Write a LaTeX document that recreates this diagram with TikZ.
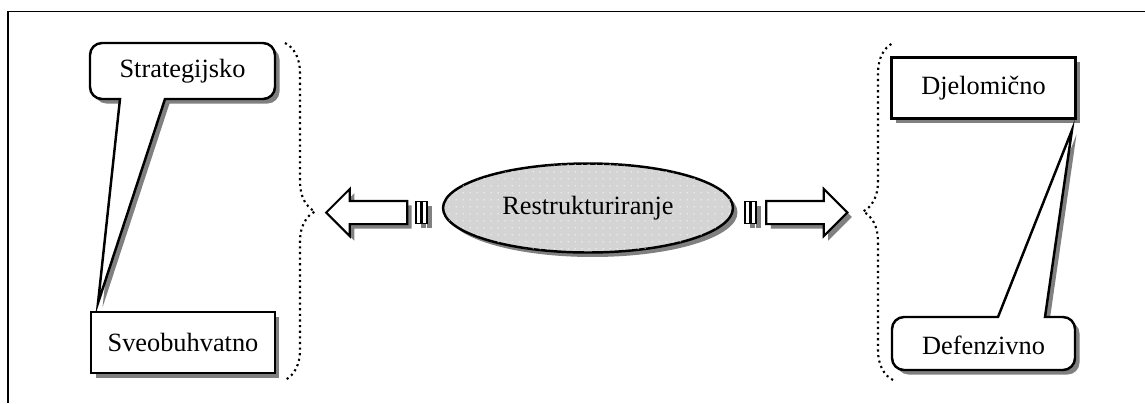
\documentclass[tikz,border=0pt]{standalone}
\usepackage{fontspec}
\setmainfont{Liberation Serif}
\usetikzlibrary{shapes.geometric,shapes.arrows,shadows,patterns.meta,decorations.pathreplacing}

\begin{document}
\begin{tikzpicture}[x=0.02cm, y=-0.02cm,
    dshadow/.style={drop shadow={shadow xshift=0.09cm, shadow yshift=-0.09cm,
                    opacity=1, fill=black!50}},
    txt/.style={font=\fontsize{15}{18}\selectfont, inner sep=0pt},
    box/.style={txt, draw, line width=1.4pt, fill=white, dshadow,
                minimum width=3.68cm, minimum height=1.22cm},
    callout/.style={draw, line width=1.4pt, fill=white, dshadow},
    blockarrow/.style={single arrow, draw, line width=1.2pt, fill=white, dshadow,
                minimum height=1.62cm, inner xsep=0pt, inner ysep=0.21cm,
                single arrow head extend=0.24cm},
    bar/.style={draw, line width=1.1pt, fill=white, dshadow,
                minimum width=0.1cm, minimum height=0.44cm, inner sep=0pt},
    dbrace/.style={dotted, line width=1.2pt, decorate,
                decoration={brace, amplitude=0.6cm}},
]
\useasboundingbox (0,0) rectangle (1145,403);

% Frame
\draw[line width=1.1pt] (8,403) -- (8,11.5) -- (1145,11.5);

% Centre
\node[txt, ellipse, draw, line width=1.4pt, fill=black!17, dshadow,
      postaction={pattern={Dots[distance=4pt, radius=0.45pt]}, pattern color=white},
      minimum width=5.8cm, minimum height=1.78cm] (restr) at (588,208) {Restrukturiranje};

% Left side
\node[blockarrow, shape border rotate=180] (larr) at (372.5,212.5) {};
\node[bar] (lbar1) at (418.5,212.5) {};
\node[bar] (lbar2) at (424.5,212.5) {};
\draw[dbrace] (285,43) -- (285,380);

\draw[callout] (200,99) [sharp corners] -- (165,99) -- (98,303) -- (120,99)
    [rounded corners=0.24cm] -- (90,99) -- (90,43) -- (275,43) -- (275,99) -- cycle;
\node[txt] (strat) at (182.5,71) {Strategijsko};
\node[box] (sveo) at (183,342.5) {Sveobuhvatno};

% Right side
\node[blockarrow] (rarr) at (801,212.5) {};
\node[bar] (rbar1) at (747.5,212.5) {};
\node[bar] (rbar2) at (753.5,212.5) {};
\draw[dbrace] (893,380) -- (893,43);

\node[box] (djel) at (983.5,88) {Djelomično};
\draw[callout] (960,317) [sharp corners] -- (998,317) -- (1072,130) -- (1045,317)
    [rounded corners=0.24cm] -- (1075,317) -- (1075,370) -- (892,370) -- (892,317) -- cycle;
\node[txt] (defen) at (983.5,345) {Defenzivno};
\end{tikzpicture}
\end{document}
